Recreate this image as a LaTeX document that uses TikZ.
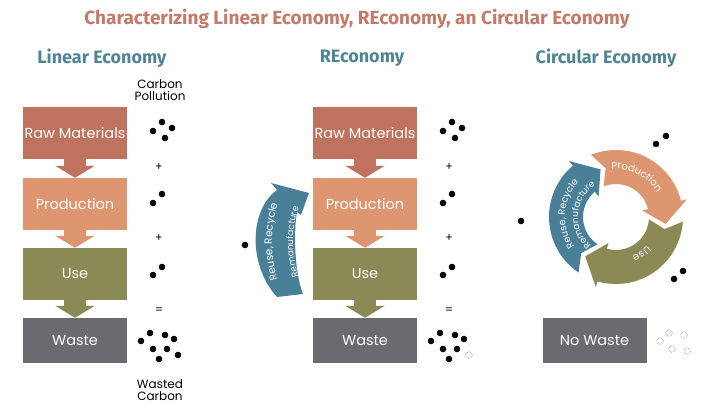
\documentclass[tikz,border=0pt]{standalone}
\usepackage{fontspec}
\setmainfont{Poppins}
\newfontfamily\headfont{Fira Sans}
\usetikzlibrary{arrows.meta,calc,decorations.text}

\definecolor{titlecol}{HTML}{C27B69}
\definecolor{headcol}{HTML}{4F8497}
\definecolor{rawcol}{HTML}{BF735E}
\definecolor{prodcol}{HTML}{DE9670}
\definecolor{usecol}{HTML}{8B8A56}
\definecolor{wastecol}{HTML}{6A6A6F}
\definecolor{reusecol}{HTML}{4A7F98}

\tikzset{
  stagebox/.style={fill=#1, text=white, minimum width=104pt, minimum height=52pt, inner sep=0pt, font=\fontsize{14.5}{16}\selectfont},
  flowarrow/.style={draw=#1, line width=22pt, -{Triangle[width=39pt,length=12pt]}},
  header/.style={font=\headfont\bfseries\fontsize{18}{20}\selectfont, text=headcol},
  smalltext/.style={font=\fontsize{12}{12}\selectfont, align=center},
  signtext/.style={font=\fontsize{11}{11}\selectfont},
  hollowdot/.style={draw=black!45, densely dotted, line width=0.6pt},
  arctext/.style={decorate, decoration={text along path, text align=center, text color=white, text={|\fontsize{#1}{#1}\selectfont|\arclabel}}},
}

% curved block arrow of the cycle: colour, tail angle, head base angle, tip angle
\newcommand{\cyclearrow}[4]{%
  \fill[#1] ($(cyc)+(#2:67)$) arc[start angle=#2, end angle=#3, radius=67]
    -- ($(cyc)+(#3:73)$) -- ($(cyc)+(#4:50)$) -- ($(cyc)+(#3:27)$)
    -- ($(cyc)+(#3:33)$) arc[start angle=#3, end angle=#2, radius=33]
    -- ($(cyc)+(#2-10:50)$) -- cycle;}

\begin{document}
\begin{tikzpicture}[x=1pt,y=1pt]
\useasboundingbox (0,0) rectangle (714,414);

\node[font=\headfont\bfseries\fontsize{19}{22}\selectfont, text=titlecol] (title) at (357,395) {Characterizing Linear Economy, REconomy, an Circular Economy};
\node[header] (hlin) at (102,356) {Linear Economy};
\node[header] (hre) at (362,356) {REconomy};
\node[header] (hcirc) at (606,356) {Circular Economy};

% linear economy
\node[stagebox=rawcol] (raw1) at (75,281) {Raw Materials};
\node[stagebox=prodcol] (prod1) at (75,210) {Production};
\node[stagebox=usecol] (use1) at (75,140) {Use};
\node[stagebox=wastecol, minimum height=45pt] (waste1) at (75,73.5) {Waste};
\draw[flowarrow=rawcol] (raw1) -- (prod1);
\draw[flowarrow=prodcol] (prod1) -- (use1);
\draw[flowarrow=usecol] (use1) -- (waste1);

\node[smalltext] (pollution) at (160,324) {Carbon\\Pollution};
\node[smalltext] (wasted) at (160,24) {Wasted\\Carbon};

% reconomy
\node[stagebox=rawcol] (raw2) at (365,281) {Raw Materials};
\node[stagebox=prodcol] (prod2) at (365,210) {Production};
\node[stagebox=usecol] (use2) at (365,140) {Use};
\node[stagebox=wastecol, minimum height=45pt] (waste2) at (365,73.5) {Waste};
\draw[flowarrow=rawcol] (raw2) -- (prod2);
\draw[flowarrow=prodcol] (prod2) -- (use2);
\draw[flowarrow=usecol] (use2) -- (waste2);

\fill[reusecol] (277,117) .. controls (247,150) and (250,205) .. (277,224) -- (271,231) -- (309,221)
  -- (301,199) -- (297,202) .. controls (293,180) and (295,140) .. (303,120) -- cycle;
\def\arclabel{Reuse, Recycle}
\path[arctext=10.5] ($(400,172)+(210:128)$) arc[start angle=210, end angle=150, radius=128];
\def\arclabel{Remanufacture}
\path[arctext=9] ($(400,172)+(210:107)$) arc[start angle=210, end angle=150, radius=107];

% signs and carbon dots
\foreach \dx/\tag in {0/a,290/b} {
  \node[signtext] (plus1\tag) at (159+\dx,247) {+};
  \node[signtext] (plus2\tag) at (159+\dx,176) {+};
  \node[signtext] (eq\tag) at (159+\dx,103) {=};
  \foreach \px/\py in {153/283,162/292,172/286,165/276,153/211,162/220,153/139,162/147,
                       141/73,150/81,165/79,174/75,153/65,167/65,159/55}
    \fill (\px+\dx,\py) circle[radius=3.3];
}
\fill (178,59) circle[radius=3.3];
\draw[hollowdot] (469,59) circle[radius=3.3];
\fill (245,169) circle[radius=3.3];

% circular economy
\coordinate (cyc) at (616,197);
\cyclearrow{prodcol}{112}{14}{-8}
\cyclearrow{usecol}{-4}{-106}{-128}
\cyclearrow{reusecol}{236}{130}{108}
\def\arclabel{Production}
\path[arctext=10] ($(cyc)+(112:48)$) arc[start angle=112, end angle=14, radius=48];
\def\arclabel{Use}
\path[arctext=10] ($(cyc)+(-4:42)$) arc[start angle=-4, end angle=-106, radius=42];
\def\arclabel{Reuse, Recycle}
\path[arctext=9.5] ($(cyc)+(232:51)$) arc[start angle=232, end angle=120, radius=51];
\def\arclabel{Remanufacture}
\path[arctext=9] ($(cyc)+(232:38)$) arc[start angle=232, end angle=120, radius=38];

\node[stagebox=wastecol, minimum height=45pt] (nowaste) at (594.5,73.5) {No Waste};
\foreach \px/\py in {656/270,666/278,521/193,674/135,683/143}
  \fill (\px,\py) circle[radius=3.3];
\foreach \px/\py in {660/73,669/81,684/79,672/65,687/63}
  \draw[hollowdot] (\px,\py) circle[radius=3.3];
\end{tikzpicture}
\end{document}
